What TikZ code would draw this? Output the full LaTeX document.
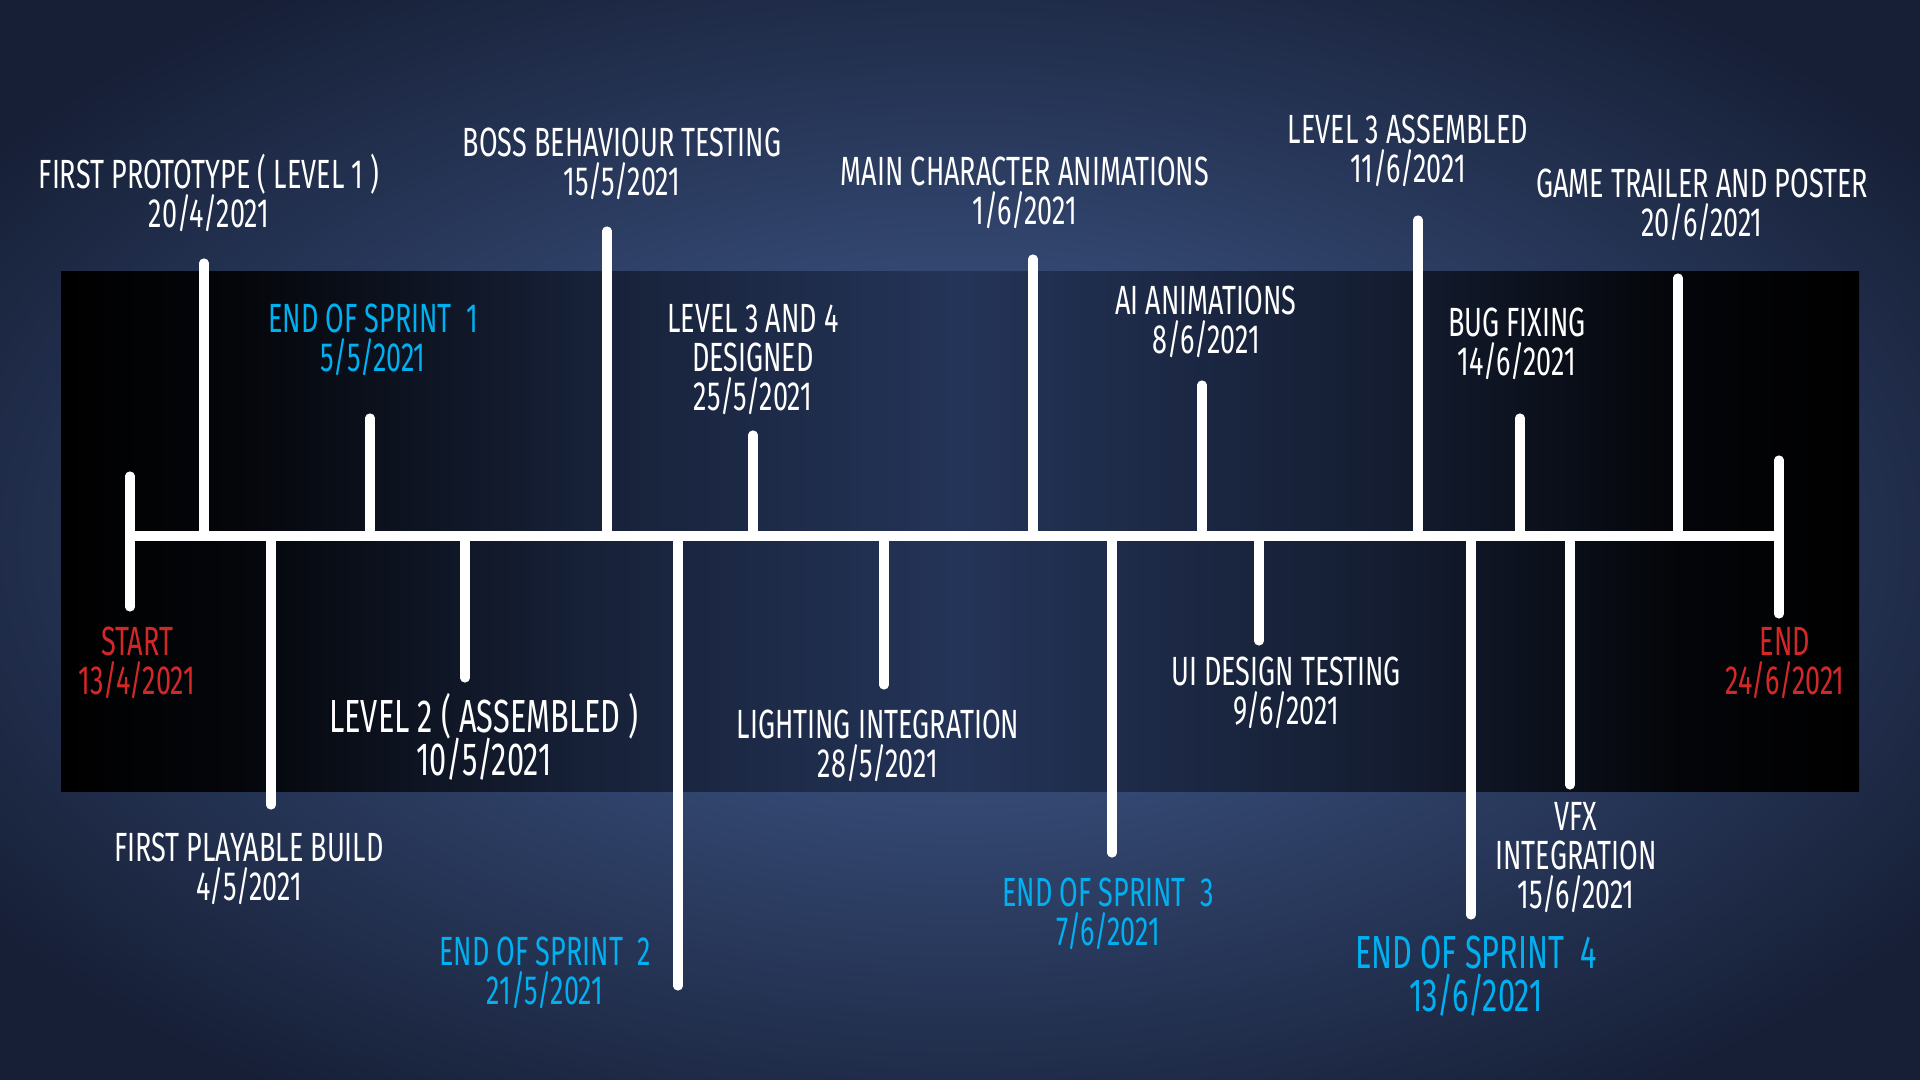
\documentclass[tikz,border=0pt]{standalone}
\usepackage{fontspec}
\newfontfamily\tlfont{Fira Sans}[FakeStretch=0.662]
\usetikzlibrary{positioning,calc}

\definecolor{bgin}{RGB}{52,72,114}
\definecolor{bgout}{RGB}{22,31,54}
\definecolor{bandmid}{RGB}{36,52,88}
\definecolor{sprintblue}{RGB}{0,176,240}
\definecolor{boundred}{RGB}{212,40,40}

\pgfdeclareradialshading{bgglow}{\pgfpoint{0bp}{0bp}}{color(0bp)=(bgin); color(12bp)=(bgin); color(31bp)=(bgout); color(50bp)=(bgout)}
\pgfdeclarehorizontalshading{bandshade}{100bp}{color(0bp)=(black); color(25bp)=(black); color(30bp)=(bandmid!12!black); color(40bp)=(bandmid!65!black); color(50bp)=(bandmid); color(62bp)=(bandmid!55!black); color(70bp)=(bandmid!10!black); color(75bp)=(black); color(100bp)=(black)}

\begin{document}
\lineskiplimit=-20pt
\begin{tikzpicture}[
    x=0.01cm, y=-0.01cm,
    stem/.style={white, line width=2.6pt, line cap=round},
    milestone/.style={align=center, inner sep=0pt, text=white,
      font=\tlfont\fontsize{11.6}{11.1}\selectfont},
    bigstone/.style={milestone,
      font=\tlfont\fontsize{13.2}{12.1}\selectfont},
    sprint/.style={text=sprintblue},
    bound/.style={text=boundred}
  ]

\shade[shading=bgglow] (0, 0) rectangle (1920, 1080);
\shade[shading=bandshade] (61, 272) rectangle (1859, 792);

\coordinate (M1) at (130, 536);
\coordinate (M19) at (1779, 536);
\draw[stem] (M1) -- (M19);

% start and end
\coordinate (T1a) at (130, 476);
\coordinate (T1b) at (130, 607);
\draw[stem] (T1a) -- (T1b);
\node[milestone, bound] (L1) at (137, 663) {START\\13/4/2021};

\coordinate (T19a) at (1779, 460);
\coordinate (T19b) at (1779, 614);
\draw[stem] (T19a) -- (T19b);
\node[milestone, bound] (L19) at (1785, 663) {END\\24/6/2021};

% above the line
\coordinate (M2) at (204, 536);
\coordinate (T2) at (204, 263);
\draw[stem] (M2) -- (T2);
\node[milestone] (L2) at (209, 193) {FIRST PROTOTYPE ( LEVEL 1 )\\20/4/2021};

\coordinate (M4) at (370, 536);
\coordinate (T4) at (370, 418);
\draw[stem] (M4) -- (T4);
\node[milestone, sprint] (L4) at (373, 340) {END OF SPRINT~ 1\\5/5/2021};

\coordinate (M6) at (607, 536);
\coordinate (T6) at (607, 231);
\draw[stem] (M6) -- (T6);
\node[milestone] (L6) at (622, 164) {BOSS BEHAVIOUR TESTING\\15/5/2021};

\coordinate (M8) at (753, 536);
\coordinate (T8) at (753, 435);
\draw[stem] (M8) -- (T8);
\node[milestone] (L8) at (753, 360) {LEVEL 3 AND 4\\DESIGNED\\25/5/2021};

\coordinate (M10) at (1033, 536);
\coordinate (T10) at (1033, 259);
\draw[stem] (M10) -- (T10);
\node[milestone] (L10) at (1025, 193) {MAIN CHARACTER ANIMATIONS\\1/6/2021};

\coordinate (M12) at (1202, 536);
\coordinate (T12) at (1202, 385);
\draw[stem] (M12) -- (T12);
\node[milestone] (L12) at (1206, 322) {AI ANIMATIONS\\8/6/2021};

\coordinate (M14) at (1418, 536);
\coordinate (T14) at (1418, 220);
\draw[stem] (M14) -- (T14);
\node[milestone] (L14) at (1408, 151) {LEVEL 3 ASSEMBLED\\11/6/2021};

\coordinate (M16) at (1520, 536);
\coordinate (T16) at (1520, 418);
\draw[stem] (M16) -- (T16);
\node[milestone] (L16) at (1517, 344) {BUG FIXING\\14/6/2021};

\coordinate (M18) at (1678, 536);
\coordinate (T18) at (1678, 278);
\draw[stem] (M18) -- (T18);
\node[milestone] (L18) at (1702, 205) {GAME TRAILER AND POSTER\\20/6/2021};

% below the line
\coordinate (M3) at (271, 536);
\coordinate (T3) at (271, 805);
\draw[stem] (M3) -- (T3);
\node[milestone] (L3) at (249, 869) {FIRST PLAYABLE BUILD\\4/5/2021};

\coordinate (M5) at (465, 536);
\coordinate (T5) at (465, 678);
\draw[stem] (M5) -- (T5);
\node[bigstone] (L5) at (484, 737) {LEVEL 2 ( ASSEMBLED )\\10/5/2021};

\coordinate (M7) at (678, 536);
\coordinate (T7) at (678, 986);
\draw[stem] (M7) -- (T7);
\node[milestone, sprint] (L7) at (545, 973) {END OF SPRINT~ 2\\21/5/2021};

\coordinate (M9) at (884, 536);
\coordinate (T9) at (884, 685);
\draw[stem] (M9) -- (T9);
\node[milestone] (L9) at (878, 746) {LIGHTING INTEGRATION\\28/5/2021};

\coordinate (M11) at (1112, 536);
\coordinate (T11) at (1112, 853);
\draw[stem] (M11) -- (T11);
\node[milestone, sprint] (L11) at (1108, 914) {END OF SPRINT~ 3\\7/6/2021};

\coordinate (M13) at (1259, 536);
\coordinate (T13) at (1259, 641);
\draw[stem] (M13) -- (T13);
\node[milestone] (L13) at (1286, 693) {UI DESIGN TESTING\\9/6/2021};

\coordinate (M15) at (1471, 536);
\coordinate (T15) at (1471, 915);
\draw[stem] (M15) -- (T15);
\node[bigstone, sprint] (L15) at (1476, 976) {END OF SPRINT~ 4\\13/6/2021};

\coordinate (M17) at (1570, 536);
\coordinate (T17) at (1570, 785);
\draw[stem] (M17) -- (T17);
\node[milestone] (L17) at (1576, 858) {VFX\\INTEGRATION\\15/6/2021};

\end{tikzpicture}
\end{document}
